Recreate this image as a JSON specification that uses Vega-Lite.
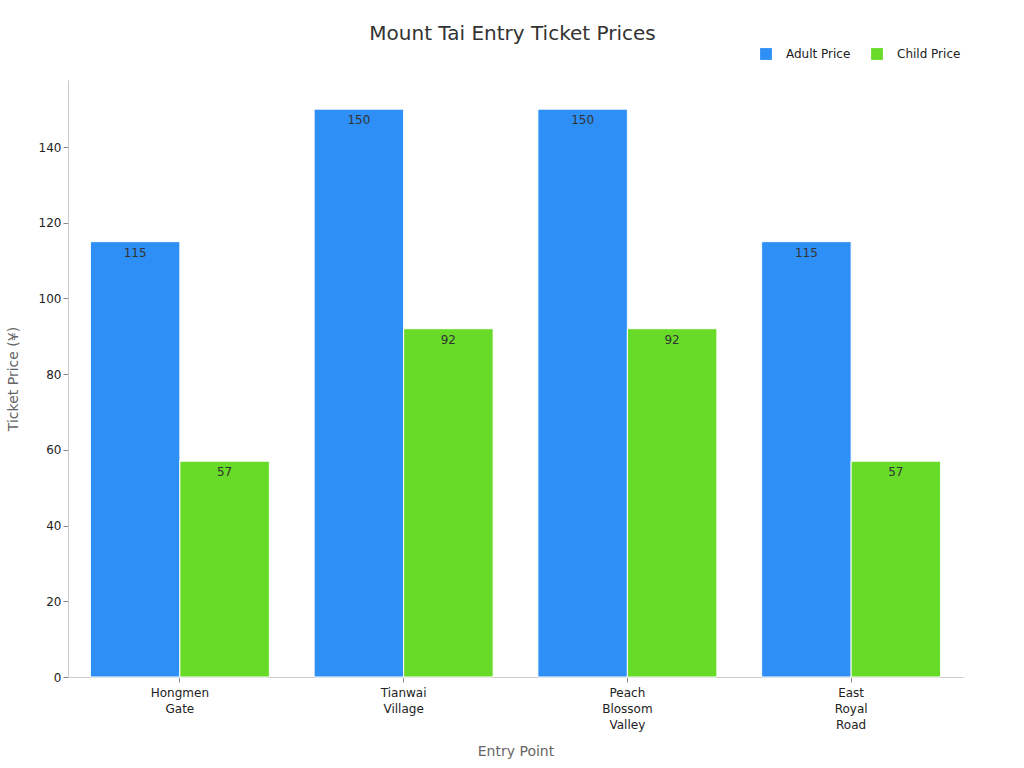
{
  "$schema": "https://vega.github.io/schema/vega-lite/v6.json",
  "autosize": {"type": "none"},
  "width": 895,
  "height": 597,
  "padding": {"left": 68, "top": 80, "right": 61, "bottom": 91},
  "background": "white",
  "title": {"text": "Mount Tai Entry Ticket Prices", "font": "DejaVu Sans", "fontSize": 20, "fontWeight": "normal", "color": "#333333", "anchor": "middle", "offset": 4, "dx": -3},
  "config": {"view": {"stroke": null}, "font": "DejaVu Sans"},
  "data": {"values": [
    {"entry": "Hongmen Gate", "series": "Adult Price", "price": 115},
    {"entry": "Hongmen Gate", "series": "Child Price", "price": 57},
    {"entry": "Tianwai Village", "series": "Adult Price", "price": 150},
    {"entry": "Tianwai Village", "series": "Child Price", "price": 92},
    {"entry": "Peach Blossom Valley", "series": "Adult Price", "price": 150},
    {"entry": "Peach Blossom Valley", "series": "Child Price", "price": 92},
    {"entry": "East Royal Road", "series": "Adult Price", "price": 115},
    {"entry": "East Royal Road", "series": "Child Price", "price": 57}
  ]},
  "encoding": {
    "x": {"field": "entry", "type": "nominal", "sort": null,
      "scale": {"paddingInner": 0.2, "paddingOuter": 0.1},
      "axis": {"title": "Entry Point", "labelAngle": 0, "labelExpr": "split(datum.label, ' ')", "labelFontSize": 12, "labelLineHeight": 16, "labelColor": "#222222", "titleFontSize": 14, "titleFontWeight": "normal", "titleColor": "#666666", "titlePadding": 14, "domainColor": "#cccccc", "tickColor": "#888888", "tickSize": 5, "labelPadding": 5}},
    "xOffset": {"field": "series", "type": "nominal"},
    "y": {"field": "price", "type": "quantitative", "scale": {"domain": [0, 157.7], "nice": false},
      "axis": {"title": "Ticket Price (¥)", "grid": false, "values": [0, 20, 40, 60, 80, 100, 120, 140], "labelFontSize": 12, "labelColor": "#222222", "titleFontSize": 14, "titleFontWeight": "normal", "titleColor": "#666666", "titlePadding": 18, "domainColor": "#cccccc", "tickColor": "#888888", "tickSize": 5}}
  },
  "layer": [
    {"mark": {"type": "bar", "stroke": "white", "strokeWidth": 1},
     "encoding": {"color": {"field": "series", "type": "nominal",
       "scale": {"domain": ["Adult Price", "Child Price"], "range": ["#2e8ff7", "#67db28"]},
       "legend": {"title": null, "orient": "none", "legendX": 692, "legendY": -32, "direction": "horizontal", "symbolType": "square", "symbolSize": 140, "symbolStrokeWidth": 0, "labelFontSize": 12, "labelColor": "#222222", "columnPadding": 20, "labelOffset": 14}}}},
    {"mark": {"type": "text", "baseline": "top", "dy": 6, "fontSize": 12, "color": "#333333"},
     "encoding": {"text": {"field": "price", "type": "quantitative"}}}
  ]
}
